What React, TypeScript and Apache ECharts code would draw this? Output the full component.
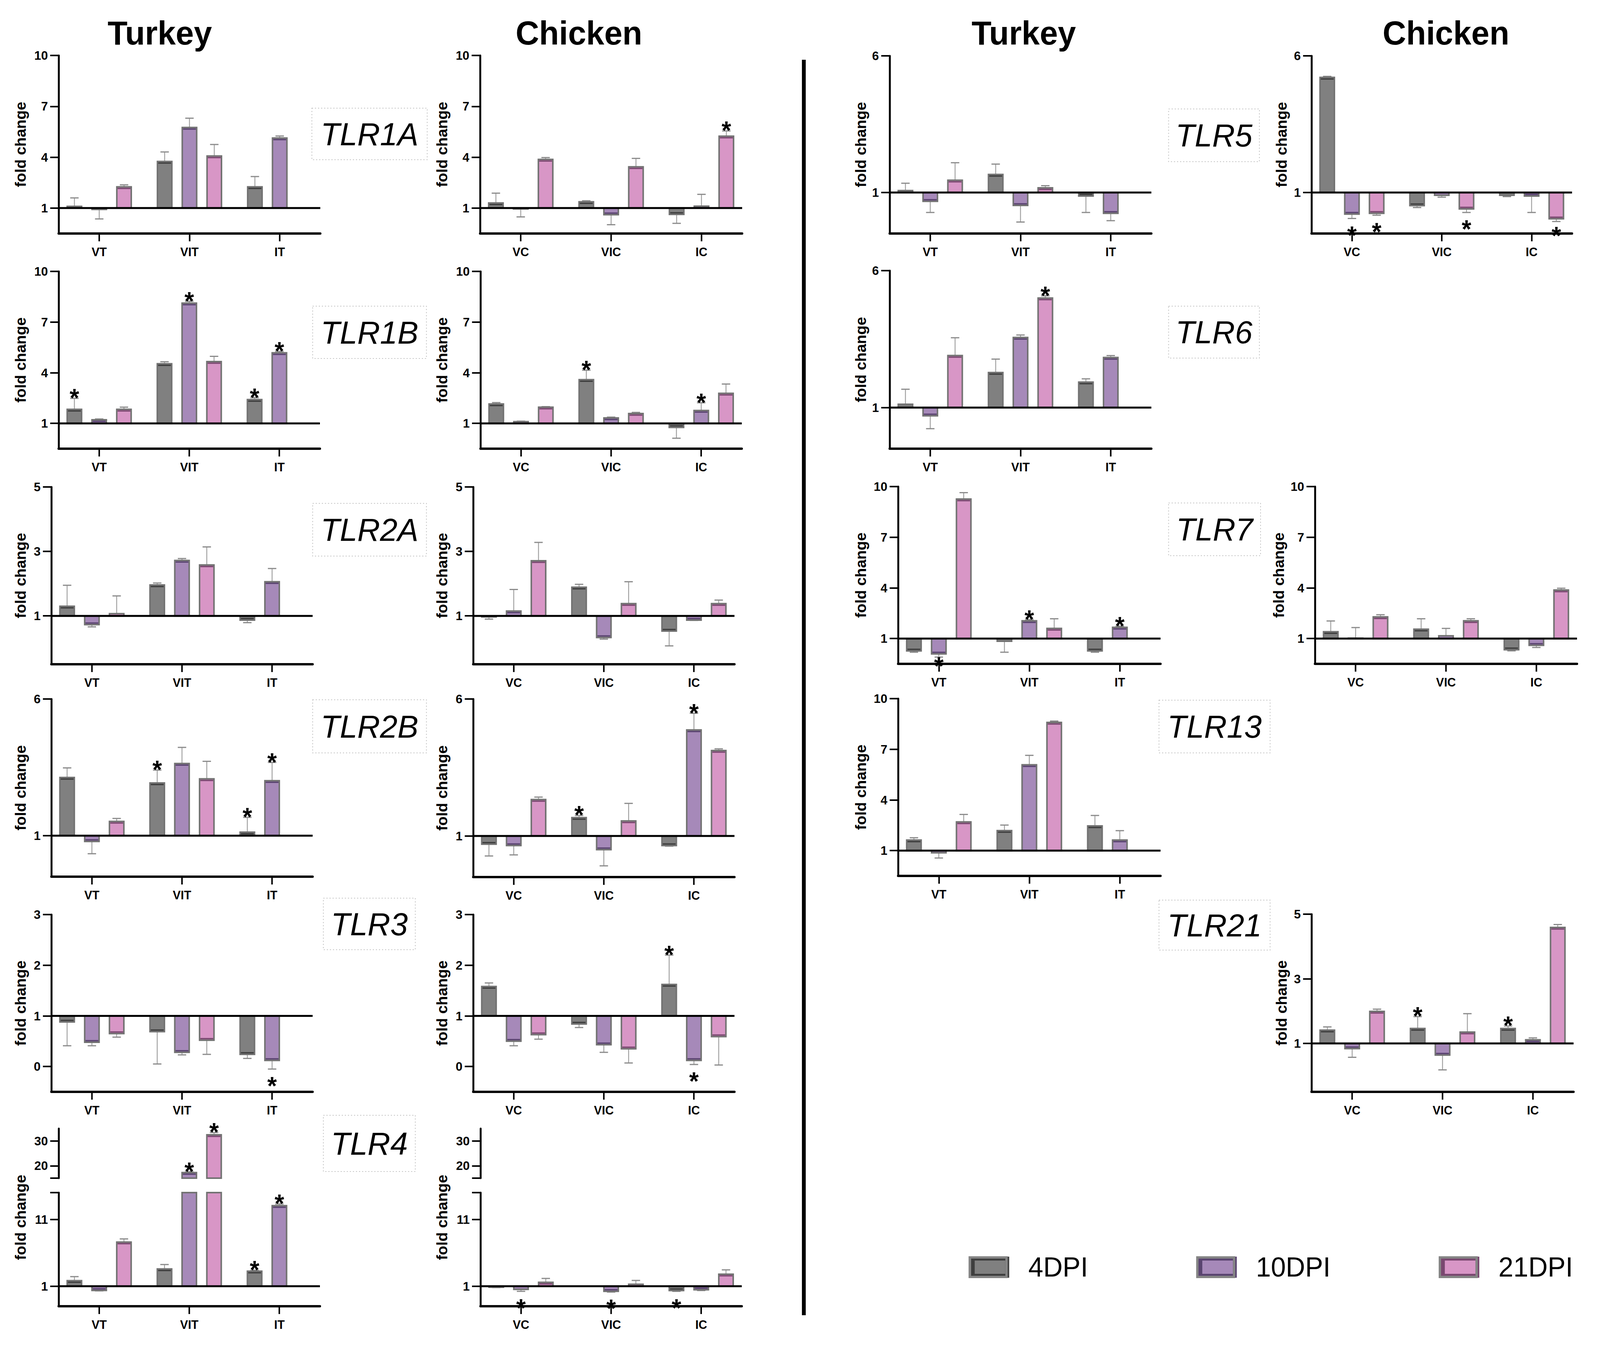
import React, { useEffect, useRef, useState } from "react";
import * as echarts from "echarts";

const W = 4176;
const H = 3475;
const FONT = "'Liberation Sans', Arial, Helvetica, sans-serif";

// ---------- categories / groups ----------
const TURKEY_CATS = ["VT", "VIT", "IT"];
const CHICKEN_CATS = ["VC", "VIC", "IC"];
const GROUPS = ["4DPI", "10DPI", "21DPI"];
const GROUP_FILL = ["#808080", "#a689b9", "#d896c6"];
const GROUP_EDGE = ["#3e3e3e", "#5a4470", "#7a4870"];

// ---------- data (rows: 4DPI, 10DPI, 21DPI; columns: categories) ----------
// mean fold change, error-bar tip, significance flag
const TLR1A_T_MEAN = [[1.1, 3.75, 2.25], [0.92, 5.75, 5.13], [2.25, 4.07, null]];
const TLR1A_T_TIP = [[1.6, 4.31, 2.86], [0.36, 6.3, 5.25], [2.37, 4.75, null]];
const TLR1A_T_SIG = [[0, 0, 0], [0, 0, 0], [0, 0, 0]];
const TLR1A_C_MEAN = [[1.3, 1.37, 0.63], [0.95, 0.61, 1.11], [3.87, 3.43, 5.24]];
const TLR1A_C_TIP = [[1.88, 1.43, 0.1], [0.48, 0.02, 1.81], [3.98, 3.93, 5.55]];
const TLR1A_C_SIG = [[0, 0, 0], [0, 0, 0], [0, 0, 1]];

const TLR1B_T_MEAN = [[1.83, 4.53, 2.41], [1.21, 8.12, 5.18], [1.83, 4.66, null]];
const TLR1B_T_TIP = [[2.48, 4.65, 2.52], [1.26, 8.23, 5.26], [1.96, 4.97, null]];
const TLR1B_T_SIG = [[1, 0, 1], [0, 1, 1], [0, 0, 0]];
const TLR1B_C_MEAN = [[2.15, 3.59, 0.76], [1.1, 1.32, 1.76], [1.96, 1.58, 2.78]];
const TLR1B_C_TIP = [[2.23, 4.15, 0.12], [1.13, 1.37, 2.22], [1.99, 1.65, 3.33]];
const TLR1B_C_SIG = [[0, 1, 0], [0, 0, 1], [0, 0, 0]];

const TLR2A_T_MEAN = [[1.3, 1.96, 0.87], [0.73, 2.72, 2.06], [1.07, 2.58, null]];
const TLR2A_T_TIP = [[1.95, 2.02, 0.79], [0.66, 2.78, 2.47], [1.62, 3.14, null]];
const TLR2A_T_SIG = [[0, 0, 0], [0, 0, 0], [0, 0, 0]];
const TLR2A_C_MEAN = [[0.97, 1.89, 0.53], [1.15, 0.33, 0.87], [2.71, 1.38, 1.38]];
const TLR2A_C_TIP = [[0.9, 1.98, 0.07], [1.82, 0.28, 0.86], [3.28, 2.06, 1.49]];
const TLR2A_C_SIG = [[0, 0, 0], [0, 0, 0], [0, 0, 0]];

const TLR2B_T_MEAN = [[3.13, 2.93, 1.13], [0.79, 3.64, 3.01], [1.52, 3.08, null]];
const TLR2B_T_TIP = [[3.48, 3.4, 1.67], [0.34, 4.23, 3.68], [1.63, 3.72, null]];
const TLR2B_T_SIG = [[0, 1, 1], [0, 0, 1], [0, 0, 0]];
const TLR2B_C_MEAN = [[0.7, 1.67, 0.65], [0.65, 0.5, 4.87], [2.33, 1.55, 4.12]];
const TLR2B_C_TIP = [[0.27, 1.75, 0.63], [0.31, -0.09, 5.48], [2.42, 2.19, 4.18]];
const TLR2B_C_SIG = [[0, 1, 0], [0, 0, 1], [0, 0, 0]];

const TLR3_T_MEAN = [[0.88, 0.69, 0.24], [0.48, 0.28, 0.12], [0.65, 0.52, null]];
const TLR3_T_TIP = [[0.41, 0.05, 0.16], [0.41, 0.23, -0.05], [0.58, 0.24, null]];
const TLR3_T_SIG = [[0, 0, 0], [0, 0, 1], [0, 0, 0]];
const TLR3_C_MEAN = [[1.58, 0.84, 1.62], [0.5, 0.43, 0.12], [0.63, 0.35, 0.59]];
const TLR3_C_TIP = [[1.65, 0.77, 2.2], [0.41, 0.28, 0.04], [0.54, 0.07, 0.03]];
const TLR3_C_SIG = [[0, 0, 1], [0, 0, 1], [0, 0, 0]];

const TLR4_T_MEAN = [[1.82, 3.58, 3.25], [0.37, 17.24, 13.04], [7.6, 32.5, null]];
const TLR4_T_TIP = [[2.43, 4.24, 3.37], [0.3, 17.56, 13.3], [8.07, 33.4, null]];
const TLR4_T_SIG = [[0, 0, 1], [0, 1, 1], [0, 1, 0]];
const TLR4_C_MEAN = [[0.85, 0.98, 0.35], [0.53, 0.23, 0.47], [1.58, 1.28, 2.79]];
const TLR4_C_TIP = [[0.8, 0.95, 0.23], [0.23, 0.12, 0.35], [2.16, 1.86, 3.44]];
const TLR4_C_SIG = [[0, 0, 1], [1, 1, 0], [0, 0, 0]];

const TLR5_T_MEAN = [[1.07, 1.66, 0.87], [0.68, 0.53, 0.24], [1.45, 1.17, null]];
const TLR5_T_TIP = [[1.34, 2.04, 0.27], [0.27, -0.08, -0.03], [2.09, 1.25, null]];
const TLR5_T_SIG = [[0, 0, 0], [0, 0, 0], [0, 0, 0]];
const TLR5_C_MEAN = [[5.21, 0.52, 0.9], [0.21, 0.9, 0.87], [0.24, 0.4, 0.04]];
const TLR5_C_TIP = [[5.25, 0.45, 0.85], [0.05, 0.83, 0.27], [0.17, 0.27, -0.06]];
const TLR5_C_SIG = [[0, 0, 0], [1, 0, 0], [1, 1, 1]];

const TLR6_T_MEAN = [[1.12, 2.28, 1.93], [0.7, 3.56, 2.83], [2.9, 5.0, null]];
const TLR6_T_TIP = [[1.67, 2.77, 2.05], [0.23, 3.65, 2.9], [3.55, 5.08, null]];
const TLR6_T_SIG = [[0, 0, 0], [0, 0, 0], [0, 1, 0]];

const TLR7_T_MEAN = [[0.27, 0.84, 0.27], [0.09, 2.05, 1.66], [9.26, 1.6, null]];
const TLR7_T_TIP = [[0.19, 0.19, 0.19], [-0.1, 2.12, 1.73], [9.64, 2.17, null]];
const TLR7_T_SIG = [[0, 0, 0], [1, 1, 1], [0, 0, 0]];
const TLR7_C_MEAN = [[1.4, 1.55, 0.34], [1.02, 1.16, 0.6], [2.28, 2.05, 3.87]];
const TLR7_C_TIP = [[2.04, 2.17, 0.27], [1.65, 1.6, 0.47], [2.41, 2.17, 3.98]];
const TLR7_C_SIG = [[0, 0, 0], [0, 0, 0], [0, 0, 0]];

const TLR13_T_MEAN = [[1.62, 2.18, 2.46], [0.87, 6.08, 1.62], [2.7, 8.59, null]];
const TLR13_T_TIP = [[1.76, 2.51, 3.08], [0.56, 6.64, 2.18], [3.14, 8.67, null]];
const TLR13_T_SIG = [[0, 0, 0], [0, 0, 0], [0, 0, 0]];

const TLR21_C_MEAN = [[1.41, 1.46, 1.46], [0.84, 0.64, 1.11], [1.99, 1.35, 4.59]];
const TLR21_C_TIP = [[1.51, 1.83, 1.54], [0.57, 0.18, 1.17], [2.06, 1.92, 4.68]];
const TLR21_C_SIG = [[0, 1, 1], [0, 0, 0], [0, 0, 0]];

// ---------- y axis ticks ----------
const TICKS_10 = [1, 4, 7, 10];
const TICKS_6 = [1, 6];
const TICKS_5 = [1, 3, 5];
const TICKS_3 = [0, 1, 2, 3];
const TLR4_UPPER_TICKS = [20, 30];
const TLR4_LOWER_TICKS = [1, 11];

type Panel = {
  cats: string[];
  mean: (number | null)[][];
  tip: (number | null)[][];
  sig: number[][];
  left: number;
  right: number;
  top: number;
  bottom: number;
  yMax: number;
  ticks: number[];
  foldX: number;
  split?: boolean;
};

const PANELS: Panel[] = [
  { cats: TURKEY_CATS, mean: TLR1A_T_MEAN, tip: TLR1A_T_TIP, sig: TLR1A_T_SIG, left: 153, right: 836, top: 142, bottom: 598, yMax: 10, ticks: TICKS_10, foldX: 54 },
  { cats: CHICKEN_CATS, mean: TLR1A_C_MEAN, tip: TLR1A_C_TIP, sig: TLR1A_C_SIG, left: 1253, right: 1937, top: 142, bottom: 598, yMax: 10, ticks: TICKS_10, foldX: 1154 },
  { cats: TURKEY_CATS, mean: TLR1B_T_MEAN, tip: TLR1B_T_TIP, sig: TLR1B_T_SIG, left: 153, right: 835, top: 695, bottom: 1149, yMax: 10, ticks: TICKS_10, foldX: 54 },
  { cats: CHICKEN_CATS, mean: TLR1B_C_MEAN, tip: TLR1B_C_TIP, sig: TLR1B_C_SIG, left: 1254, right: 1936, top: 695, bottom: 1149, yMax: 10, ticks: TICKS_10, foldX: 1154 },
  { cats: TURKEY_CATS, mean: TLR2A_T_MEAN, tip: TLR2A_T_TIP, sig: TLR2A_T_SIG, left: 134, right: 816, top: 1247, bottom: 1701, yMax: 5, ticks: TICKS_5, foldX: 54 },
  { cats: CHICKEN_CATS, mean: TLR2A_C_MEAN, tip: TLR2A_C_TIP, sig: TLR2A_C_SIG, left: 1235, right: 1917, top: 1247, bottom: 1701, yMax: 5, ticks: TICKS_5, foldX: 1154 },
  { cats: TURKEY_CATS, mean: TLR2B_T_MEAN, tip: TLR2B_T_TIP, sig: TLR2B_T_SIG, left: 134, right: 816, top: 1790, bottom: 2245, yMax: 6, ticks: TICKS_6, foldX: 54 },
  { cats: CHICKEN_CATS, mean: TLR2B_C_MEAN, tip: TLR2B_C_TIP, sig: TLR2B_C_SIG, left: 1235, right: 1917, top: 1790, bottom: 2246, yMax: 6, ticks: TICKS_6, foldX: 1154 },
  { cats: TURKEY_CATS, mean: TLR3_T_MEAN, tip: TLR3_T_TIP, sig: TLR3_T_SIG, left: 134, right: 816, top: 2342, bottom: 2796, yMax: 3, ticks: TICKS_3, foldX: 54 },
  { cats: CHICKEN_CATS, mean: TLR3_C_MEAN, tip: TLR3_C_TIP, sig: TLR3_C_SIG, left: 1235, right: 1917, top: 2342, bottom: 2796, yMax: 3, ticks: TICKS_3, foldX: 1154 },
  { cats: TURKEY_CATS, mean: TLR4_T_MEAN, tip: TLR4_T_TIP, sig: TLR4_T_SIG, left: 153, right: 835, top: 2890, bottom: 3345, yMax: 35, ticks: TLR4_LOWER_TICKS, foldX: 54, split: true },
  { cats: CHICKEN_CATS, mean: TLR4_C_MEAN, tip: TLR4_C_TIP, sig: TLR4_C_SIG, left: 1254, right: 1936, top: 2890, bottom: 3345, yMax: 35, ticks: TLR4_LOWER_TICKS, foldX: 1154, split: true },
  { cats: TURKEY_CATS, mean: TLR5_T_MEAN, tip: TLR5_T_TIP, sig: TLR5_T_SIG, left: 2322, right: 3005, top: 143, bottom: 598, yMax: 6, ticks: TICKS_6, foldX: 2247 },
  { cats: CHICKEN_CATS, mean: TLR5_C_MEAN, tip: TLR5_C_TIP, sig: TLR5_C_SIG, left: 3423, right: 4103, top: 143, bottom: 598, yMax: 6, ticks: TICKS_6, foldX: 3345 },
  { cats: TURKEY_CATS, mean: TLR6_T_MEAN, tip: TLR6_T_TIP, sig: TLR6_T_SIG, left: 2322, right: 3005, top: 693, bottom: 1149, yMax: 6, ticks: TICKS_6, foldX: 2247 },
  { cats: TURKEY_CATS, mean: TLR7_T_MEAN, tip: TLR7_T_TIP, sig: TLR7_T_SIG, left: 2344, right: 3029, top: 1246, bottom: 1700, yMax: 10, ticks: TICKS_10, foldX: 2247 },
  { cats: CHICKEN_CATS, mean: TLR7_C_MEAN, tip: TLR7_C_TIP, sig: TLR7_C_SIG, left: 3432, right: 4116, top: 1246, bottom: 1700, yMax: 10, ticks: TICKS_10, foldX: 3338 },
  { cats: TURKEY_CATS, mean: TLR13_T_MEAN, tip: TLR13_T_TIP, sig: TLR13_T_SIG, left: 2344, right: 3029, top: 1789, bottom: 2243, yMax: 10, ticks: TICKS_10, foldX: 2247 },
  { cats: CHICKEN_CATS, mean: TLR21_C_MEAN, tip: TLR21_C_TIP, sig: TLR21_C_SIG, left: 3423, right: 4107, top: 2341, bottom: 2796, yMax: 5, ticks: TICKS_5, foldX: 3345 },
];

// gene label boxes: [text, boxX, boxY, boxW, boxH]
const GENE_LABELS: [string, number, number, number, number][] = [
  ["TLR1A", 814, 277, 301, 132],
  ["TLR1B", 816, 784, 297, 134],
  ["TLR2A", 816, 1289, 297, 135],
  ["TLR2B", 816, 1792, 297, 136],
  ["TLR3", 844, 2300, 240, 132],
  ["TLR4", 844, 2856, 240, 144],
  ["TLR5", 3050, 279, 237, 135],
  ["TLR6", 3050, 784, 237, 133],
  ["TLR7", 3050, 1288, 240, 135],
  ["TLR13", 3025, 1793, 290, 135],
  ["TLR21", 3025, 2305, 290, 128],
];

const TITLES: [string, number][] = [
  ["Turkey", 417],
  ["Chicken", 1511],
  ["Turkey", 2672],
  ["Chicken", 3774],
];

const LEGEND_LEFT = [2534, 3128, 3761];
const LEGEND_CENTER_Y = 3245;

const X_MIN = -0.45;
const X_MAX = 2.45;
const BAR_OFFSET = 0.275;
const BAR_WIDTH = 0.16;

function makeRender(g: number) {
  const offset = (g - 1) * BAR_OFFSET;
  return (params: any, api: any) => {
    const ci = api.value(0);
    const v = api.value(1);
    const tip = api.value(2);
    const sig = api.value(3);
    const cs = params.coordSys;
    const top = cs.y;
    const bot = cs.y + cs.height;
    const clamp = (y: number) => Math.max(top, Math.min(bot, y));
    const xc = api.coord([ci + offset, 1])[0];
    const bw = api.size([BAR_WIDTH, 0])[0];
    const y1raw = api.coord([ci, 1])[1];
    const yvraw = api.coord([ci, v])[1];
    const ytraw = api.coord([ci, tip])[1];
    const up = v >= 1;
    const children: any[] = [];
    const y1 = clamp(y1raw);
    const yv = clamp(yvraw);
    const endInside = yvraw >= top - 1 && yvraw <= bot + 1;
    const tipInside = ytraw >= top - 1 && ytraw <= bot + 1;
    if (endInside && tipInside) {
      children.push({
        type: "line",
        shape: { x1: xc, y1: yv, x2: xc, y2: ytraw },
        style: { stroke: "#a3a3a3", lineWidth: 2.5 },
      });
      children.push({
        type: "line",
        shape: { x1: xc - 11, y1: ytraw, x2: xc + 11, y2: ytraw },
        style: { stroke: "#8a8a8a", lineWidth: 3 },
      });
    }
    const hgt = Math.abs(yv - y1);
    if (hgt > 0.5) {
      children.push({
        type: "rect",
        shape: { x: xc - bw / 2, y: Math.min(y1, yv), width: bw, height: hgt },
        style: { fill: GROUP_FILL[g], stroke: "#727272", lineWidth: 4 },
      });
      if (endInside && hgt > 9) {
        const dy = up ? 4 : -4;
        children.push({
          type: "line",
          shape: { x1: xc - bw / 2 + 2, y1: yv + dy, x2: xc + bw / 2 - 2, y2: yv + dy },
          style: { stroke: GROUP_EDGE[g], lineWidth: 3.5 },
        });
      }
    }
    if (sig && tipInside) {
      const centre = up ? ytraw - 16 : Math.min(ytraw + 28, bot - 9);
      children.push({
        type: "text",
        x: xc,
        y: centre + 15,
        style: {
          text: "*",
          fontSize: 64,
          fontWeight: "bold",
          fontFamily: FONT,
          fill: "#000",
          align: "center",
          verticalAlign: "middle",
        },
      });
    }
    return { type: "group", children };
  };
}

function buildOption() {
  const grids: any[] = [];
  const xAxes: any[] = [];
  const yAxes: any[] = [];
  const series: any[] = [];

  const addGrid = (
    left: number, right: number, top: number, bottom: number,
    yMin: number, yMax: number, tickVals: number[], labelVals: number[],
    cats: string[], showX: boolean
  ) => {
    const gi = grids.length;
    grids.push({ left, top, width: right - left, height: bottom - top, containLabel: false, outerBoundsMode: "none" });
    xAxes.push({
      gridIndex: gi,
      type: "value",
      min: X_MIN,
      max: X_MAX,
      show: showX,
      axisLine: { show: true, onZero: false, lineStyle: { color: "#000", width: 6 } },
      axisTick: { show: true, customValues: [0, 1, 2], length: 20, lineStyle: { color: "#000", width: 4 } },
      axisLabel: {
        show: true,
        customValues: [0, 1, 2],
        formatter: (val: number) => cats[Math.round(val)] ?? "",
        margin: 32,
        fontSize: 31,
        fontWeight: "bold",
        color: "#000",
        fontFamily: FONT,
      },
      splitLine: { show: false },
    });
    yAxes.push({
      gridIndex: gi,
      type: "value",
      min: yMin,
      max: yMax,
      axisLine: { show: true, onZero: false, lineStyle: { color: "#000", width: 5 } },
      axisTick: { show: true, customValues: tickVals, length: 22, lineStyle: { color: "#000", width: 4 } },
      axisLabel: {
        show: true,
        customValues: labelVals,
        margin: 28,
        fontSize: 32,
        fontWeight: "bold",
        color: "#000",
        fontFamily: FONT,
      },
      splitLine: { show: false },
    });
    return gi;
  };

  const addBars = (p: Panel, gi: number) => {
    for (let g = 0; g < 3; g++) {
      const data: any[] = [];
      for (let c = 0; c < 3; c++) {
        const m = p.mean[g][c];
        const t = p.tip[g][c];
        if (m == null || t == null) continue;
        data.push([c, m, t, p.sig[g][c]]);
      }
      series.push({
        type: "custom",
        name: GROUPS[g],
        xAxisIndex: gi,
        yAxisIndex: gi,
        renderItem: makeRender(g),
        data,
        encode: { x: 0, y: 1 },
        itemStyle: { color: GROUP_FILL[g] },
        silent: true,
        z: 3,
      });
    }
  };

  const addBaseline = (gi: number) => {
    series.push({
      type: "line",
      xAxisIndex: gi,
      yAxisIndex: gi,
      data: [[X_MIN, 1], [X_MAX, 1]],
      symbol: "none",
      lineStyle: { color: "#000", width: 5 },
      silent: true,
      z: 5,
    });
  };

  PANELS.forEach((p) => {
    if (p.split) {
      const gu = addGrid(p.left, p.right, p.top, 3017, 15, 35, [15, ...TLR4_UPPER_TICKS], TLR4_UPPER_TICKS, p.cats, false);
      const gl = addGrid(p.left, p.right, 3054, p.bottom, -2, 15, [...p.ticks, 15], p.ticks, p.cats, true);
      addBars(p, gu);
      addBars(p, gl);
      addBaseline(gl);
    } else {
      const gi = addGrid(p.left, p.right, p.top, p.bottom, -0.5, p.yMax, p.ticks, p.ticks, p.cats, true);
      addBars(p, gi);
      addBaseline(gi);
    }
  });

  const graphic: any[] = [];
  TITLES.forEach(([t, x]) => {
    graphic.push({
      type: "text",
      x,
      y: 85,
      style: { text: t, fontSize: 85, fontWeight: "bold", fontFamily: FONT, fill: "#000", align: "center", verticalAlign: "middle" },
    });
  });
  graphic.push({ type: "rect", shape: { x: 2093, y: 153, width: 10, height: 3215 }, style: { fill: "#000" } });
  GENE_LABELS.forEach(([t, bx, by, bwid, bh]) => {
    graphic.push({
      type: "rect",
      shape: { x: bx, y: by, width: bwid, height: bh },
      style: { fill: "none", stroke: "#c4c4c4", lineWidth: 2, lineDash: [3, 5] },
    });
    graphic.push({
      type: "text",
      x: bx + bwid / 2,
      y: by + bh / 2,
      style: { text: t, fontSize: 82, fontStyle: "italic", fontFamily: FONT, fill: "#000", align: "center", verticalAlign: "middle" },
    });
  });
  PANELS.forEach((p) => {
    graphic.push({
      type: "text",
      x: p.foldX,
      y: (p.top + p.bottom) / 2,
      rotation: Math.PI / 2,
      style: { text: "fold change", fontSize: 39, fontWeight: "bold", fontFamily: FONT, fill: "#000", align: "center", verticalAlign: "middle" },
    });
  });
  LEGEND_LEFT.forEach((lx) => {
    graphic.push({
      type: "rect",
      z: 100,
      shape: { x: lx - 3, y: LEGEND_CENTER_Y - 25, width: 96, height: 50 },
      style: { fill: "none", stroke: "#858585", lineWidth: 6 },
    });
  });

  const legend = GROUPS.map((g, i) => ({
    data: [{ name: g, itemStyle: { color: GROUP_FILL[i], borderColor: GROUP_EDGE[i], borderWidth: 10 } }],
    left: LEGEND_LEFT[i],
    top: LEGEND_CENTER_Y - 35,
    padding: 0,
    icon: "rect",
    itemWidth: 90,
    itemHeight: 44,
    selectedMode: false,
    textStyle: { fontSize: 70, color: "#000", fontFamily: FONT, padding: [0, 0, 0, 50] },
  }));

  return {
    animation: false,
    backgroundColor: "#ffffff",
    textStyle: { fontFamily: FONT },
    grid: grids,
    xAxis: xAxes,
    yAxis: yAxes,
    series,
    graphic,
    legend,
  };
}

export default function App() {
  const ref = useRef<HTMLDivElement>(null);
  const [scale, setScale] = useState<[number, number]>([1, 1]);
  useEffect(() => {
    document.body.style.margin = "0";
    document.body.style.overflow = "hidden";
    const vw = window.innerWidth || W;
    const vh = window.innerHeight || H;
    // fit the full figure into the actual viewport
    setScale([Math.min(1, vw / W), Math.min(1, vh / H)]);
    if (!ref.current) return;
    const chart = echarts.init(ref.current, undefined, { renderer: "svg", width: W, height: H });
    chart.setOption(buildOption() as any);
    return () => chart.dispose();
  }, []);
  return (
    <div
      ref={ref}
      style={{
        position: "absolute",
        left: 0,
        top: 0,
        width: W,
        height: H,
        background: "#fff",
        transform: `scale(${scale[0]}, ${scale[1]})`,
        transformOrigin: "0 0",
      }}
    />
  );
}
